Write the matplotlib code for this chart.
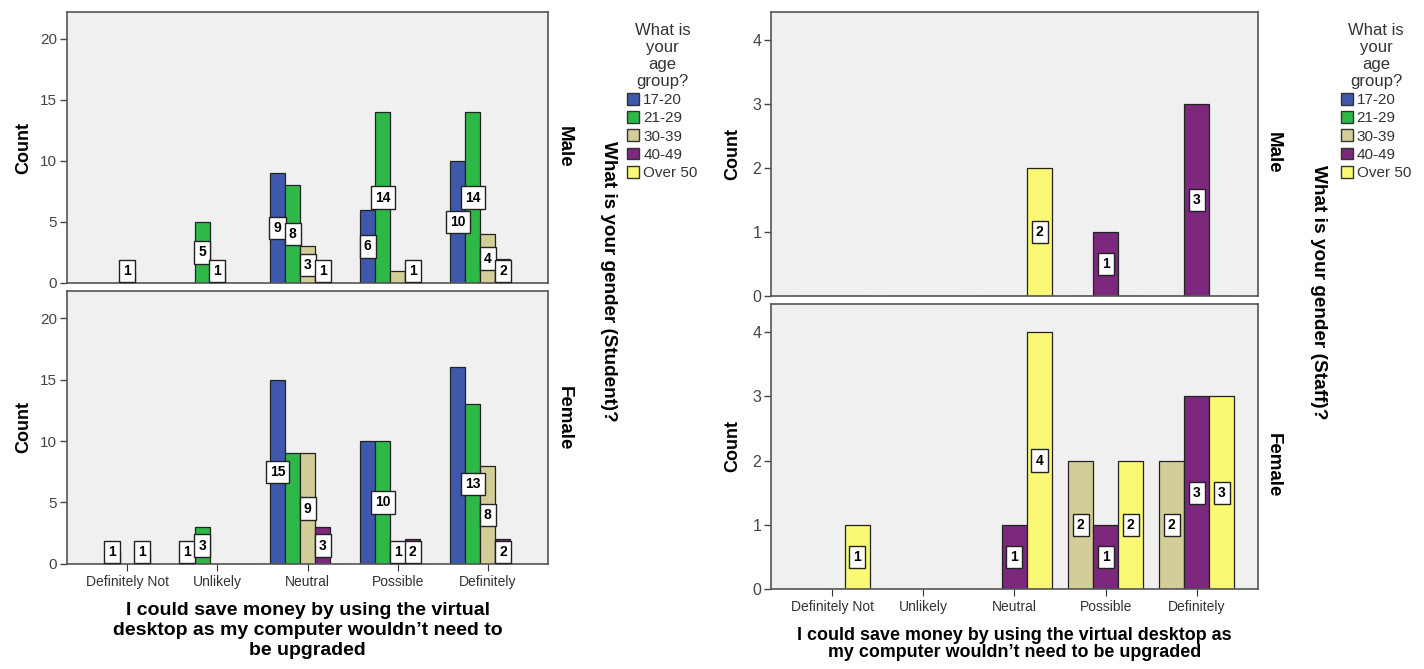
import matplotlib.pyplot as plt
import numpy as np
from matplotlib.patches import Patch

plt.rcParams['font.family'] = ['Liberation Sans', 'DejaVu Sans']

# categories and age groups
categories = ['Definitely Not', 'Unlikely', 'Neutral', 'Possible', 'Definitely']
age_groups = ['17-20', '21-29', '30-39', '40-49', 'Over 50']
age_colors = ['#3E58AC', '#2EB848', '#D3CE97', '#7C287D', '#FBF873']

# Student counts (rows = age group, cols = category)
student_male = [
    [0, 0, 9, 6, 10],
    [0, 5, 8, 14, 14],
    [1, 1, 3, 1, 4],
    [0, 0, 1, 1, 2],
    [0, 0, 0, 0, 0],
]
student_female = [
    [0, 1, 15, 10, 16],
    [1, 3, 9, 10, 13],
    [0, 0, 9, 1, 8],
    [1, 0, 3, 2, 2],
    [0, 0, 0, 0, 0],
]
# which value labels are visible (the rest were hidden by overlap)
student_male_shown = [
    [0, 0, 1, 1, 1],
    [0, 1, 1, 1, 1],
    [1, 1, 1, 0, 1],
    [0, 0, 1, 1, 1],
    [0, 0, 0, 0, 0],
]
student_female_shown = [
    [0, 1, 1, 0, 0],
    [1, 1, 0, 1, 1],
    [0, 0, 1, 1, 1],
    [1, 0, 1, 1, 1],
    [0, 0, 0, 0, 0],
]

# Staff counts, only the three age groups that have data get a slot
staff_groups = [2, 3, 4]
staff_male = [
    [0, 0, 0, 0, 0],
    [0, 0, 0, 1, 3],
    [0, 0, 2, 0, 0],
]
staff_female = [
    [0, 0, 0, 2, 2],
    [0, 0, 1, 1, 3],
    [1, 0, 4, 2, 3],
]

xlabel_student = 'I could save money by using the virtual\ndesktop as my computer wouldn\u2019t need to\nbe upgraded'
xlabel_staff = 'I could save money by using the virtual desktop as\nmy computer wouldn\u2019t need to be upgraded'


def draw_panel(ax, data, groups, width, ymax, yticks, min_lab, shown=None, tick_fs=11):
    x = np.arange(len(categories))
    n = len(groups)
    for i, g in enumerate(groups):
        vals = np.array(data[i], dtype=float)
        off = (i - (n - 1) / 2) * width
        ax.bar(x + off, vals, width, color=age_colors[g], edgecolor='#222222', linewidth=0.9, zorder=2)
        for j, v in enumerate(vals):
            if v == 0:
                continue
            if shown is not None and not shown[i][j]:
                continue
            ax.text(x[j] + off, max(v / 2, min_lab), str(int(v)), ha='center', va='center',
                    fontsize=10, fontweight='bold', zorder=4,
                    bbox=dict(boxstyle='square,pad=0.3', facecolor='white', edgecolor='#222222', linewidth=1))
    ax.set_facecolor('#F0F0F0')
    ax.set_xlim(-0.67, 4.67)
    ax.set_ylim(0, ymax)
    ax.set_yticks(yticks)
    ax.tick_params(axis='y', labelsize=tick_fs, colors='#444444', length=5, width=1, pad=2)
    ax.set_xticks(x)
    for s in ax.spines.values():
        s.set_color('#555555')
        s.set_linewidth(1.2)


fig = plt.figure(figsize=(14.24, 6.69), dpi=100)

# Student chart (left)
axl1 = fig.add_axes([0.047, 0.577, 0.338, 0.405])
axl2 = fig.add_axes([0.047, 0.157, 0.338, 0.408])
all5 = [0, 1, 2, 3, 4]
draw_panel(axl1, student_male, all5, 1 / 6, 22.2, [0, 5, 10, 15, 20], 1.0, student_male_shown)
draw_panel(axl2, student_female, all5, 1 / 6, 22.2, [0, 5, 10, 15, 20], 1.0, student_female_shown)
axl1.tick_params(axis='x', length=0, labelbottom=False)
axl2.set_xticklabels(categories)
axl2.tick_params(axis='x', labelsize=10, colors='#333333', length=5, pad=3)
for ax in (axl1, axl2):
    ax.set_ylabel('Count', fontsize=13, fontweight='bold', labelpad=6)
axl2.set_xlabel(xlabel_student, fontsize=14, fontweight='bold', labelpad=9, linespacing=1.25)
fig.text(0.396, 0.78, 'Male', rotation=270, fontsize=13.5, fontweight='bold', ha='center', va='center')
fig.text(0.396, 0.375, 'Female', rotation=270, fontsize=13.5, fontweight='bold', ha='center', va='center')
fig.text(0.427, 0.58, 'What is your gender (Student)?', rotation=270, fontsize=13.6, fontweight='bold',
         ha='center', va='center')

# Staff chart (right)
axr1 = fig.add_axes([0.5414, 0.5575, 0.342, 0.4245])
axr2 = fig.add_axes([0.5414, 0.1196, 0.342, 0.426])
draw_panel(axr1, staff_male, staff_groups, 0.275, 4.44, [0, 1, 2, 3, 4], 0.0, tick_fs=11.5)
draw_panel(axr2, staff_female, staff_groups, 0.275, 4.44, [0, 1, 2, 3, 4], 0.0, tick_fs=11.5)
axr1.tick_params(axis='x', length=0, labelbottom=False)
axr2.set_xticklabels(categories)
axr2.tick_params(axis='x', labelsize=10, colors='#333333', length=5, pad=3)
for ax in (axr1, axr2):
    ax.set_ylabel('Count', fontsize=13, fontweight='bold', labelpad=8)
axr2.set_xlabel(xlabel_staff, fontsize=12.9, fontweight='bold', labelpad=9, linespacing=1.05)
fig.text(0.894, 0.771, 'Male', rotation=270, fontsize=13.5, fontweight='bold', ha='center', va='center')
fig.text(0.894, 0.304, 'Female', rotation=270, fontsize=13.5, fontweight='bold', ha='center', va='center')
fig.text(0.9256, 0.563, 'What is your gender (Staff)?', rotation=270, fontsize=13.7, fontweight='bold',
         ha='center', va='center')

# legends
handles = [Patch(facecolor=c, edgecolor='#333333', linewidth=1) for c in age_colors]
for xpos in (0.4405, 0.9415):
    leg = fig.legend(handles, age_groups, loc='upper left', bbox_to_anchor=(xpos, 0.965),
                     title='What is\nyour\nage\ngroup?', frameon=False, fontsize=11, title_fontsize=12,
                     handlelength=0.8, handleheight=0.8, handletextpad=0.25, labelspacing=0.27,
                     borderaxespad=0, borderpad=0)
    leg.get_title().set_color('#333333')
    leg.get_title().set_multialignment('center')
    leg.get_title().set_linespacing(1.15)
    for t in leg.get_texts():
        t.set_color('#333333')

plt.savefig('out.png', dpi=100)
